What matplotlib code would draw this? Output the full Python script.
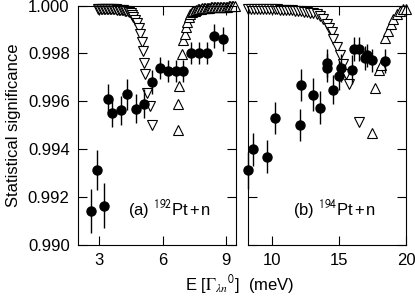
import numpy as np
import matplotlib.pyplot as plt
import matplotlib

matplotlib.rc('font', family='Liberation Sans', size=12)
matplotlib.rc('mathtext', fontset='stix')

# (a) 192Pt+n
e_a = [2.60, 2.88, 3.24, 3.42, 3.62, 4.02, 4.33, 4.72, 5.12, 5.48, 5.87, 6.24, 6.61, 6.98,
       7.34, 7.72, 8.08, 8.44, 8.84]
s_a = [0.99141, 0.99311, 0.99162, 0.99610, 0.99551, 0.99561, 0.99629, 0.99569, 0.99590,
       0.99679, 0.99739, 0.99728, 0.99728, 0.99728, 0.99801, 0.99800, 0.99800, 0.99871, 0.99860]
err_a = [0.00093, 0.00085, 0.00095, 0.0006, 0.0006, 0.0006, 0.00065, 0.0006, 0.0006,
         0.0005, 0.00046, 0.00046, 0.00046, 0.00046, 0.00046, 0.00046, 0.00046, 0.0005, 0.0005]

e_dn_a = [2.94, 3.01, 3.08, 3.15, 3.22, 3.29, 3.36, 3.43, 3.50, 3.57, 3.64, 3.71, 3.78, 3.85,
          3.92, 3.99, 4.06, 4.13, 4.20, 4.27, 4.34, 4.41, 4.48, 4.55, 4.62, 4.69, 4.80, 4.90,
          4.95, 5.01, 5.06, 5.10, 5.16, 5.25, 5.40, 5.48]
s_dn_a = [0.99986, 0.99986, 0.99986, 0.99986, 0.99986, 0.99985, 0.99985, 0.99985, 0.99985,
          0.99985, 0.99985, 0.99984, 0.99984, 0.99983, 0.99983, 0.99982, 0.99981, 0.99980,
          0.99979, 0.99977, 0.99975, 0.99972, 0.99968, 0.99960, 0.99950, 0.99940, 0.99925,
          0.99908, 0.99882, 0.99847, 0.99809, 0.99760, 0.99714, 0.99632, 0.99578, 0.99499]

e_up_a = [6.71, 6.74, 6.78, 6.90, 6.97, 7.04, 7.10, 7.16, 7.22, 7.29, 7.37, 7.44, 7.51, 7.58,
          7.65, 7.72, 7.79, 7.86, 7.93, 8.00, 8.07, 8.14, 8.21, 8.28, 8.35, 8.42, 8.49, 8.56,
          8.63, 8.70, 8.77, 8.84, 8.91, 8.98, 9.05, 9.12, 9.19, 9.26, 9.33, 9.40]
s_up_a = [0.99479, 0.99587, 0.99662, 0.99798, 0.99854, 0.99882, 0.99910, 0.99931, 0.99952,
          0.99966, 0.99972, 0.99976, 0.99979, 0.99982, 0.99984, 0.99986, 0.99987, 0.99988,
          0.99989, 0.99990, 0.99990, 0.99991, 0.99991, 0.99992, 0.99992, 0.99993, 0.99993,
          0.99993, 0.99994, 0.99994, 0.99994, 0.99995, 0.99995, 0.99995, 0.99995, 0.99996,
          0.99996, 0.99996, 0.99996, 0.99996]

# (b) 194Pt+n
e_b = [8.21, 8.60, 9.58, 10.21, 12.05, 12.15, 13.05, 13.55, 14.07, 14.11, 14.51, 15.00, 15.10,
       15.97, 16.10, 16.50, 16.92, 17.05, 17.47, 18.42]
s_b = [0.99311, 0.99398, 0.99368, 0.99531, 0.99500, 0.99669, 0.99627, 0.99573, 0.99739,
       0.99759, 0.99648, 0.99707, 0.99739, 0.99732, 0.99819, 0.99819, 0.99780, 0.99791,
       0.99770, 0.99767]
err_b = [0.00077, 0.0007, 0.0007, 0.00067, 0.00067, 0.00067, 0.0007, 0.0007, 0.0006, 0.0006,
         0.0006, 0.0006, 0.0006, 0.0006, 0.0005, 0.0005, 0.0005, 0.0005, 0.0005, 0.0005]

e_dn_b = [8.19, 8.41, 8.63, 8.85, 9.07, 9.29, 9.51, 9.73, 9.95, 10.17, 10.39, 10.61, 10.83,
          11.05, 11.27, 11.49, 11.71, 11.93, 12.15, 12.37, 12.59, 12.81, 13.03, 13.32, 13.57,
          13.81, 14.07, 14.25, 14.44, 14.56, 14.81, 15.06, 15.31, 15.51, 15.76, 16.50]
s_dn_b = [0.99986, 0.99986, 0.99986, 0.99986, 0.99986, 0.99985, 0.99985, 0.99985, 0.99985,
          0.99984, 0.99984, 0.99983, 0.99983, 0.99982, 0.99981, 0.99980, 0.99979, 0.99978,
          0.99976, 0.99974, 0.99972, 0.99969, 0.99968, 0.99966, 0.99956, 0.99945, 0.99924,
          0.99906, 0.99889, 0.99861, 0.99826, 0.99791, 0.99756, 0.99714, 0.99672, 0.99513]

e_up_b = [17.47, 17.70, 17.95, 18.15, 18.45, 18.67, 18.87, 19.05, 19.29, 19.54, 19.79, 19.97]
s_up_b = [0.99465, 0.99653, 0.99732, 0.99753, 0.99865, 0.99893, 0.99924, 0.99945, 0.99966,
          0.99976, 0.99984, 0.99987]

fig = plt.figure(figsize=(4.15, 2.98), dpi=100)
ax1 = fig.add_axes([0.188, 0.1795, 0.381, 0.802])
ax2 = fig.add_axes([0.5976, 0.1795, 0.381, 0.802])

tri = dict(ls='none', mfc='white', mec='black', mew=0.8, ms=7.2, clip_on=False)
dots = dict(fmt='o', color='black', ms=6.5, elinewidth=1.0, capsize=0, zorder=5, clip_on=False)

ax1.plot(e_dn_a, s_dn_a, marker='v', **tri)
ax1.plot(e_up_a, s_up_a, marker='^', **tri)
ax1.errorbar(e_a, s_a, yerr=err_a, **dots)

ax2.plot(e_dn_b, s_dn_b, marker='v', **tri)
ax2.plot(e_up_b, s_up_b, marker='^', **tri)
ax2.errorbar(e_b, s_b, yerr=err_b, **dots)

ax1.set_xlim(2.0, 9.47)
ax2.set_xlim(8.19, 20)
ax1.set_xticks([3, 6, 9])
ax2.set_xticks([10, 15, 20])
for ax in (ax1, ax2):
    ax.set_ylim(0.990, 1.000)
    ax.set_yticks(np.arange(0.990, 1.0001, 0.002))
    ax.tick_params(direction='in', length=6.5, width=0.8, top=True, right=True, pad=6)
    for sp in ax.spines.values():
        sp.set_linewidth(0.8)
ax1.set_yticklabels(['%.3f' % v for v in np.arange(0.990, 1.0001, 0.002)])
ax2.set_yticklabels([])

ax1.text(4.36, 0.99145, r'(a) $^{\mathsf{192}}$Pt$\,$+$\,$n', va='center', fontsize=12)
ax2.text(11.55, 0.99145, r'(b) $^{\mathsf{194}}$Pt$\,$+$\,$n', va='center', fontsize=12)

ax1.set_ylabel('Statistical significance', labelpad=5)
fig.text(0.578, 0.025, r'E [$\Gamma_{\lambda n}{}^{\mathsf{0}}$]  (meV)', ha='center', fontsize=12)

plt.savefig('out.png', dpi=100)
